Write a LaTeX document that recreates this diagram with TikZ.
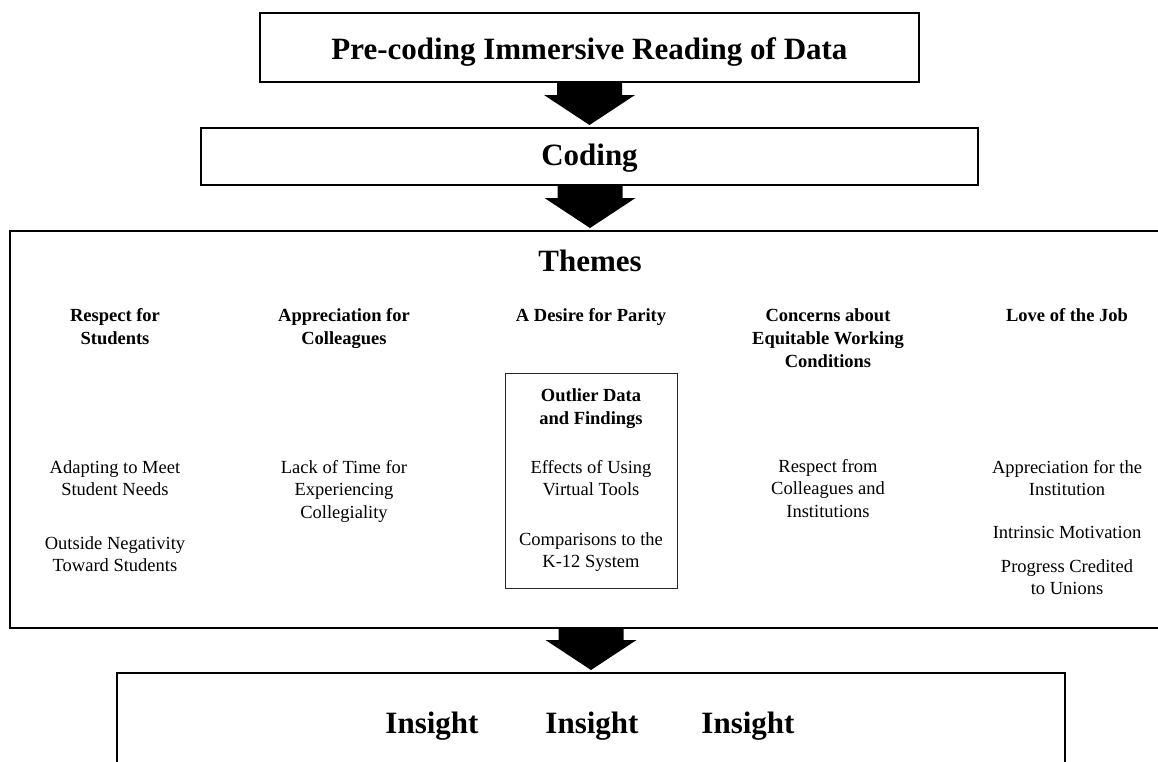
\documentclass[tikz,border=0pt]{standalone}
\usepackage{fontspec}
\setmainfont{Liberation Serif}
\usetikzlibrary{calc}
\newcommand{\fatarrow}[2]{%
  \fill let \p1=(#1.south), \p2=(#2.north) in
    (\x2-32.5pt,\y1) -- (\x2+32.5pt,\y1) -- (\x2+32.5pt,\y2+33pt) --
    (\x2+45.5pt,\y2+33pt) -- (\x2,\y2+3pt) -- (\x2-45.5pt,\y2+33pt) --
    (\x2-32.5pt,\y2+33pt) -- cycle;}
\begin{document}
\begin{tikzpicture}[x=1pt,y=-1pt,
  frame/.style={draw, line width=2.8pt, inner sep=0pt, outer sep=0pt},
  thinframe/.style={draw=black!85, line width=1pt, inner sep=0pt, outer sep=0pt},
  bigtext/.style={anchor=base, inner sep=0pt, font=\fontsize{31}{37}\selectfont\bfseries},
  headtext/.style={anchor=base, inner sep=0pt, align=center, font=\fontsize{18.5}{23}\selectfont\bfseries},
  bodytext/.style={anchor=base, inner sep=0pt, align=center, font=\fontsize{18.5}{22.7}\selectfont}]
\useasboundingbox (0,0) rectangle (1158,761);
\clip (0,0) rectangle (1158,761);
% boxes
\node[frame, minimum width=659pt, minimum height=69pt] (box1) at (589.5,47.5) {};
\node[frame, minimum width=777pt, minimum height=57pt] (box2) at (589.5,156.5) {};
\node[frame, minimum width=1160pt, minimum height=397pt] (themes) at (590,429.5) {};
\node[frame, minimum width=948pt, minimum height=117pt] (insight) at (591,731.5) {};
\node[thinframe, minimum width=172pt, minimum height=215pt] (outlier) at (591,480.5) {};
% titles
\node[bigtext] (t1) at (589.5,59) {Pre-coding Immersive Reading of Data};
\node[bigtext] (t2) at (589.5,165) {Coding};
\node[bigtext] (t3) at (590,271) {Themes};
\node[bigtext] (i1) at (432,733) {Insight};
\node[bigtext] (i2) at (592,733) {Insight};
\node[bigtext] (i3) at (748,733) {Insight};
% headers (coordinates = baseline of last line)
\node[headtext] (h1) at (115,344) {Respect for\\Students};
\node[headtext] (h2) at (344,344) {Appreciation for\\Colleagues};
\node[headtext] (h3) at (591,321) {A Desire for Parity};
\node[headtext] (h4) at (828,367) {Concerns about\\Equitable Working\\Conditions};
\node[headtext] (h5) at (1067,321) {Love of the Job};
% column 1
\node[bodytext] (b11) at (115,495.7) {Adapting to Meet\\Student Needs};
\node[bodytext] (b12) at (115,571.7) {Outside Negativity\\Toward Students};
% column 2
\node[bodytext] (b21) at (344,518.4) {Lack of Time for\\Experiencing\\Collegiality};
% column 3
\node[headtext] (o0) at (591,424) {Outlier Data\\and Findings};
\node[bodytext] (o1) at (591,495.7) {Effects of Using\\Virtual Tools};
\node[bodytext] (o2) at (591,567.7) {Comparisons to the\\K-12 System};
% column 4
\node[bodytext] (b41) at (828,517.4) {Respect from\\Colleagues and\\Institutions};
% column 5
\node[bodytext] (b51) at (1067,495.7) {Appreciation for the\\Institution};
\node[bodytext] (b52) at (1067,538) {Intrinsic Motivation};
\node[bodytext] (b53) at (1067,594.7) {Progress Credited\\to Unions};
% arrows
\fatarrow{box1}{box2}
\fatarrow{box2}{themes}
\fatarrow{themes}{insight}
\end{tikzpicture}
\end{document}
